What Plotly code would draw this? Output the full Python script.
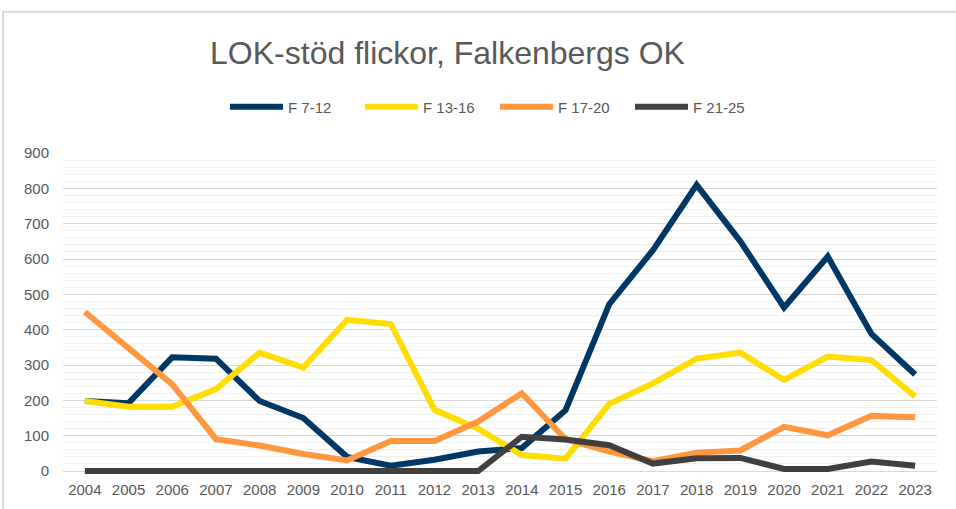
import plotly.graph_objects as go

years = [str(y) for y in range(2004, 2024)]
f_7_12 = [198, 192, 322, 318, 198, 150, 40, 15, 32, 55, 65, 172, 472, 625, 810, 650, 463, 607, 388, 273]
f_13_16 = [198, 182, 182, 232, 335, 293, 428, 416, 173, 120, 45, 35, 190, 248, 318, 335, 258, 324, 314, 211]
f_17_20 = [450, 350, 245, 90, 72, 48, 30, 85, 85, 140, 220, 90, 55, 28, 52, 58, 125, 101, 156, 152]
f_21_25 = [0, 0, 0, 0, 0, 0, 0, 0, 0, 0, 97, 89, 73, 21, 36, 37, 6, 6, 27, 15]

series = [
    ("F 7-12", f_7_12, "#003865"),
    ("F 13-16", f_13_16, "#FFDD00"),
    ("F 17-20", f_17_20, "#FF9740"),
    ("F 21-25", f_21_25, "#404040"),
]

FONT = "Liberation Sans, Arial, sans-serif"
fig = go.Figure()
for name, vals, col in series:
    fig.add_trace(go.Scatter(
        x=years, y=vals, name=name, mode="lines",
        line=dict(color=col, width=6),
        cliponaxis=False,
    ))

# y range extended slightly below 0 so the line lying on 0 is not clipped
fig.update_layout(
    width=956, height=509,
    margin=dict(l=63, r=19, t=153, b=35, autoexpand=False),
    paper_bgcolor="white", plot_bgcolor="white",
    font=dict(family=FONT, color="#595959"),
    title=dict(text="LOK-stöd flickor, Falkenbergs OK", x=447.5/956, xanchor="center",
               y=1-53/509, yanchor="middle", yref="container", automargin=False,
               font=dict(size=32, color="#595959", family=FONT)),
    showlegend=True,
    legend=dict(orientation="h", x=0.4943, xanchor="center", xref="paper",
                y=1-107/509, yanchor="middle", yref="container",
                font=dict(size=15, color="#595959"), itemwidth=53,
                entrywidth=67, entrywidthmode="pixels",
                bgcolor="rgba(0,0,0,0)"),
    xaxis=dict(type="category", range=[-0.5, 19.5], showgrid=False, zeroline=False,
               automargin=False,
               showline=False, ticks="outside", ticklen=2, tickcolor="rgba(0,0,0,0)",
               tickfont=dict(size=15, color="#595959")),
    yaxis=dict(range=[-8.5, 900], dtick=100, tick0=0, showgrid=True, gridcolor="#d9d9d9",
               gridwidth=1, zeroline=False, showline=False, automargin=False,
               ticks="outside", ticklen=10, tickcolor="rgba(0,0,0,0)",
               tickfont=dict(size=15, color="#595959"),
               minor=dict(dtick=20, tick0=0, showgrid=True, gridcolor="#f0f0f0", gridwidth=1)),
    shapes=[dict(type="path", xref="paper", yref="paper",
                 path="M -0.0686,-0.2 L -0.0686,1.440 L 1.05,1.440",
                 line=dict(color="#d9d9d9", width=2), layer="below")],
)

fig.write_html("out.html", config={"displayModeBar": False},
               post_script="document.body.style.margin='0';")
